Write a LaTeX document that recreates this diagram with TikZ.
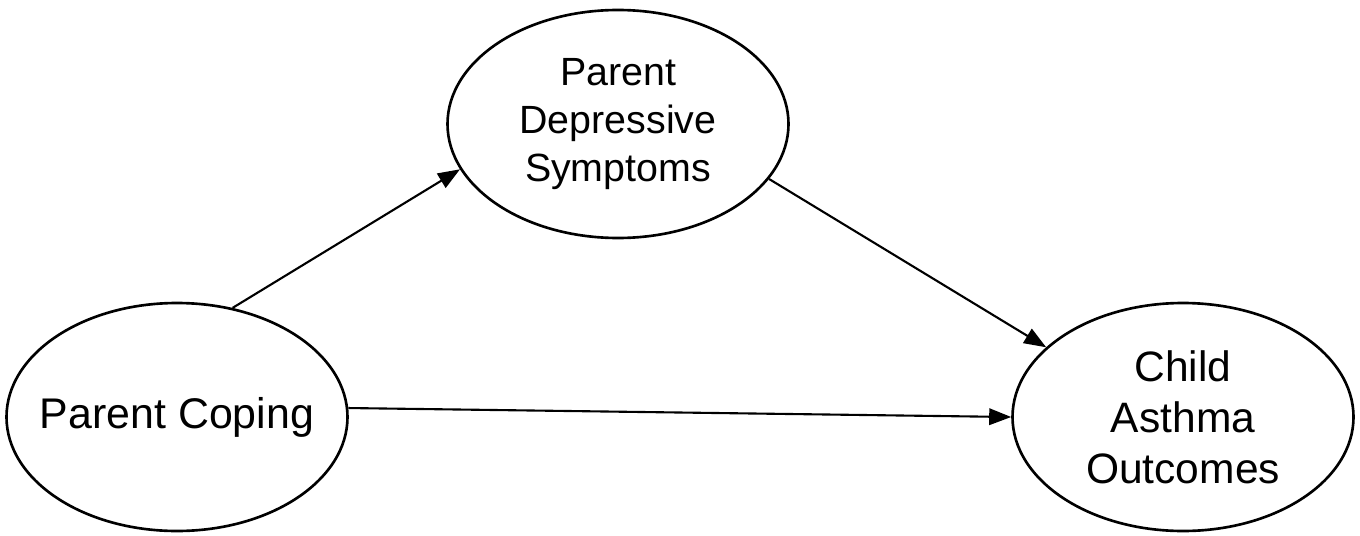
\documentclass[tikz,border=0pt]{standalone}
\usepackage{fontspec}
\setmainfont{Liberation Sans}
\usetikzlibrary{shapes.geometric,arrows.meta}

\begin{document}
\begin{tikzpicture}[line width=1.2pt,
  latent/.style={ellipse, draw, line width=1.5pt, minimum width=6.82cm, minimum height=4.56cm, inner sep=0pt, align=center},
  path/.style={-{Triangle[length=4.4mm,width=3.3mm]}}]
\useasboundingbox (0,0) rectangle (27.2,10.7);
\node[latent, inner xsep=-1cm, font=\fontsize{24.4}{29}\selectfont] (coping) at (3.54,2.36) {Parent Coping};
\node[latent, font=\fontsize{22.4}{27.2}\selectfont] (depress) at (12.36,8.22) {Parent\\Depressive\\Symptoms};
\node[latent, font=\fontsize{24.2}{29}\selectfont] (asthma) at (23.66,2.36) {Child\\Asthma\\Outcomes};
\draw[path] (coping.63) -- (depress.196);
\draw[path] (depress.340) -- (asthma.153);
\draw[path] (coping.3) -- (asthma.180);
\end{tikzpicture}
\end{document}
